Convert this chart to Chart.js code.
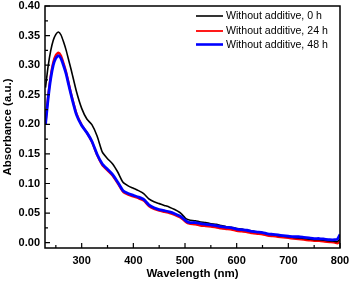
<!DOCTYPE html>
<html>
<head>
<meta charset="utf-8">
<script src="https://cdn.jsdelivr.net/npm/chart.js@4"></script>
<style>
  html, body { margin: 0; padding: 0; background: #fff; }
  #wrap { width: 350px; height: 282px; }
</style>
</head>
<body>
<div id="wrap"><canvas id="chart"></canvas></div>
<script>
const wavelengths = [230,235,240,245,250,255,260,265,270,275,280,290,300,310,320,330,340,350,360,370,380,390,400,410,420,430,440,450,460,470,480,490,495,500,505,510,520,530,540,550,560,570,580,590,600,610,620,630,640,650,660,670,680,690,700,710,720,730,740,750,760,770,780,790,795,800];

const abs0h = [0.262,0.298,0.324,0.342,0.352,0.356,0.351,0.339,0.325,0.308,0.291,0.255,0.227,0.209,0.199,0.180,0.153,0.142,0.133,0.119,0.102,0.096,0.092,0.088,0.083,0.074,0.069,0.066,0.063,0.060,0.056,0.051,0.047,0.042,0.039,0.038,0.037,0.035,0.034,0.032,0.031,0.029,0.027,0.026,0.024,0.023,0.021,0.020,0.018,0.017,0.015,0.014,0.012,0.011,0.010,0.009,0.008,0.007,0.006,0.005,0.005,0.004,0.003,0.002,0.002,0.006];

const abs24h = [0.203,0.247,0.281,0.305,0.317,0.321,0.316,0.303,0.288,0.269,0.250,0.218,0.199,0.186,0.170,0.148,0.131,0.122,0.113,0.100,0.086,0.081,0.078,0.075,0.071,0.062,0.057,0.054,0.052,0.050,0.047,0.043,0.040,0.036,0.033,0.032,0.031,0.029,0.028,0.027,0.026,0.024,0.023,0.022,0.020,0.019,0.018,0.016,0.015,0.014,0.012,0.011,0.010,0.009,0.008,0.007,0.006,0.005,0.004,0.003,0.003,0.002,0.001,0.000,-0.001,0.002];

const abs48h = [0.200,0.243,0.277,0.300,0.312,0.316,0.311,0.299,0.285,0.266,0.248,0.216,0.198,0.186,0.171,0.149,0.133,0.124,0.115,0.102,0.088,0.083,0.080,0.077,0.073,0.064,0.059,0.056,0.054,0.052,0.049,0.045,0.042,0.038,0.035,0.034,0.034,0.032,0.031,0.030,0.029,0.027,0.026,0.025,0.023,0.022,0.021,0.019,0.018,0.017,0.015,0.014,0.013,0.012,0.011,0.010,0.010,0.009,0.008,0.007,0.007,0.006,0.005,0.005,0.006,0.014];

const seriesLabels = ["Without additive, 0 h", "Without additive, 24 h", "Without additive, 48 h"];
const seriesColors = ["#000000", "#ff0000", "#0000ff"];
const xTicks = [300, 400, 500, 600, 700, 800];
const xMinorTicks = [250, 350, 450, 550, 650, 750];
const yTicks = [0.00, 0.05, 0.10, 0.15, 0.20, 0.25, 0.30, 0.35, 0.40];
const yMinorTicks = [0.025, 0.075, 0.125, 0.175, 0.225, 0.275, 0.325, 0.375];

const toPoints = vals => wavelengths.map((w, i) => ({ x: w, y: vals[i] }));

// frame, inward ticks and the legend inside the plot
const framePlugin = {
    id: 'frame_ticks_legend',
    afterDraw: (chart) => {
        const ctx = chart.ctx;
        const a = chart.chartArea;
        const xs = chart.scales.x, ys = chart.scales.y;
        ctx.save();
        ctx.strokeStyle = '#000';
        ctx.lineWidth = 1.5;
        ctx.strokeRect(a.left, a.top, a.right - a.left, a.bottom - a.top);

        ctx.lineWidth = 1.2;
        ctx.beginPath();
        xTicks.forEach(v => { const p = xs.getPixelForValue(v); ctx.moveTo(p, a.bottom); ctx.lineTo(p, a.bottom - 5); });
        xMinorTicks.forEach(v => { const p = xs.getPixelForValue(v); ctx.moveTo(p, a.bottom); ctx.lineTo(p, a.bottom - 3); });
        yTicks.forEach(v => { const p = ys.getPixelForValue(v); ctx.moveTo(a.left, p); ctx.lineTo(a.left + 5, p); });
        yMinorTicks.forEach(v => { const p = ys.getPixelForValue(v); ctx.moveTo(a.left, p); ctx.lineTo(a.left + 3, p); });
        ctx.stroke();

        // legend
        const rows = [16, 31, 44.5];
        const widths = [1.6, 1.8, 2.6];
        ctx.font = '10.6px "Liberation Sans", Arial, sans-serif';
        ctx.textBaseline = 'middle';
        ctx.fillStyle = '#000';
        seriesLabels.forEach((lbl, i) => {
            ctx.strokeStyle = seriesColors[i];
            ctx.lineWidth = widths[i];
            ctx.beginPath();
            ctx.moveTo(196, rows[i]);
            ctx.lineTo(223, rows[i]);
            ctx.stroke();
            ctx.fillText(lbl, 226, rows[i] + 0.5);
        });
        ctx.restore();
    }
};

const tickFont = { family: '"Liberation Sans", Arial, sans-serif', size: 11, weight: 'bold' };

new Chart(document.getElementById('chart').getContext('2d'), {
    type: 'line',
    data: {
        datasets: [
            { label: seriesLabels[0], data: toPoints(abs0h), borderColor: seriesColors[0], borderWidth: 1.6, order: 1 },
            { label: seriesLabels[1], data: toPoints(abs24h), borderColor: seriesColors[1], borderWidth: 2.3, order: 2 },
            { label: seriesLabels[2], data: toPoints(abs48h), borderColor: seriesColors[2], borderWidth: 2.8, order: 0 }
        ]
    },
    options: {
        responsive: true,
        maintainAspectRatio: false,
        animation: false,
        layout: { padding: { top: 6, right: 10, left: 0, bottom: 0 } },
        elements: { point: { radius: 0 }, line: { tension: 0.2, fill: false } },
        plugins: {
            legend: { display: false },
            tooltip: { enabled: false }
        },
        scales: {
            x: {
                type: 'linear',
                min: 229,
                max: 800,
                afterBuildTicks: axis => { axis.ticks = xTicks.map(v => ({ value: v })); },
                afterFit: scale => { scale.height = 34; scale.paddingLeft = 0; scale.paddingRight = 0; },
                grid: { display: false, drawTicks: false },
                border: { display: false },
                ticks: { color: '#000', font: tickFont, padding: 6, maxRotation: 0 },
                title: {
                    display: true,
                    text: 'Wavelength (nm)',
                    color: '#000',
                    font: { family: '"Liberation Sans", Arial, sans-serif', size: 11.5, weight: 'bold' },
                    padding: { top: 0, bottom: 1 }
                }
            },
            y: {
                type: 'linear',
                min: -0.009,
                max: 0.40,
                afterBuildTicks: axis => { axis.ticks = yTicks.map(v => ({ value: v })); },
                afterFit: scale => { scale.width = 45; scale.paddingTop = 0; scale.paddingBottom = 0; },
                grid: { display: false, drawTicks: false },
                border: { display: false },
                ticks: { color: '#000', font: tickFont, padding: 5, callback: v => v.toFixed(2) },
                title: {
                    display: true,
                    text: 'Absorbance (a.u.)',
                    color: '#000',
                    font: { family: '"Liberation Sans", Arial, sans-serif', size: 11.5, weight: 'bold' },
                    padding: { top: 1, bottom: 0 }
                }
            }
        }
    },
    plugins: [framePlugin]
});
</script>
</body>
</html>
